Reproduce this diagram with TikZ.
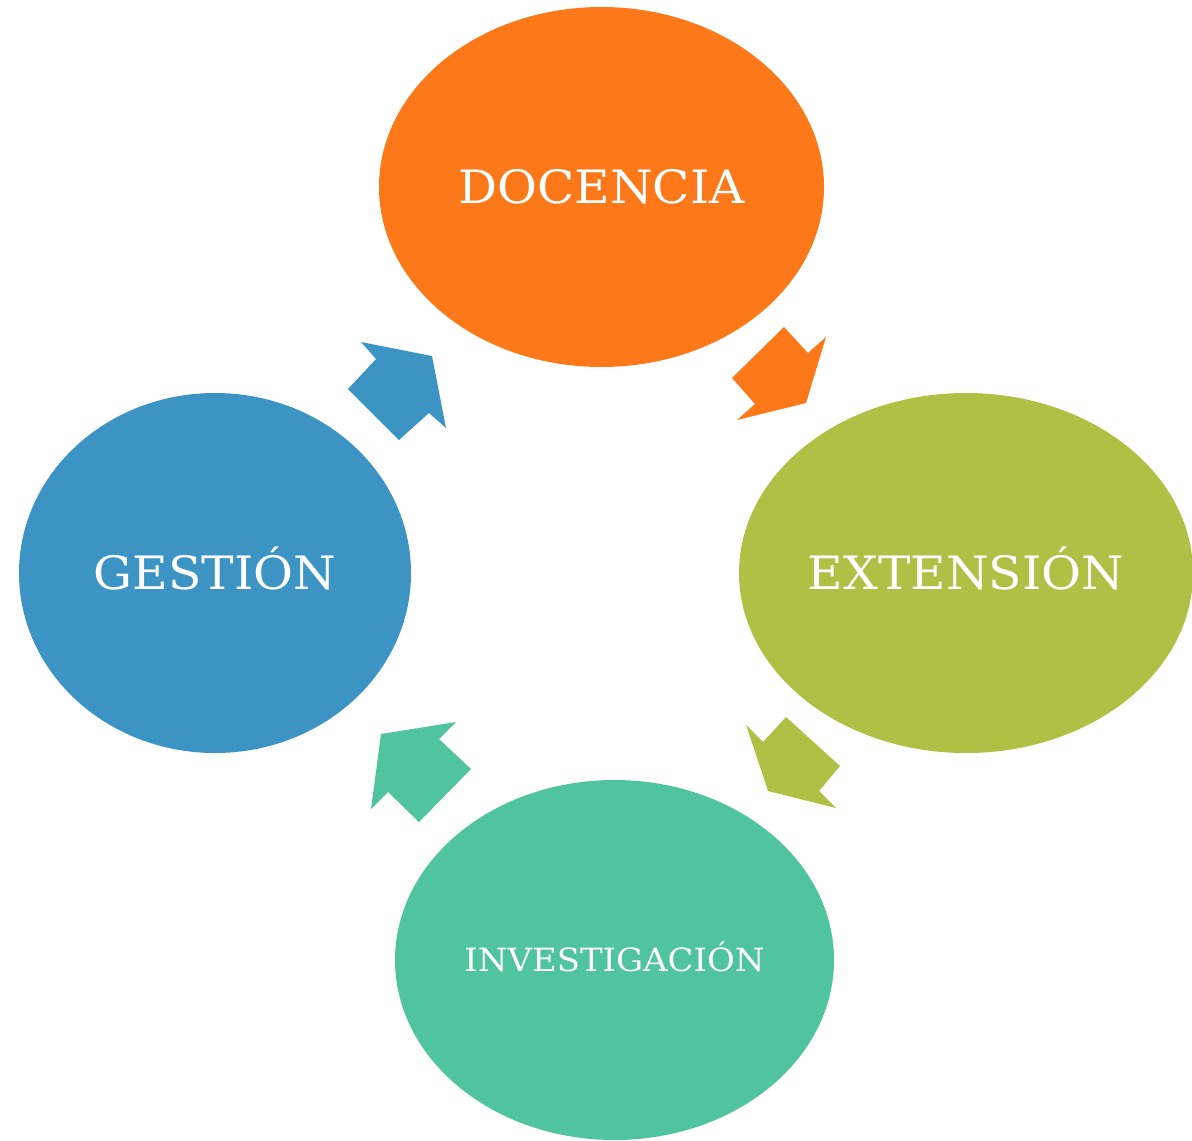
\documentclass[tikz,border=0pt]{standalone}
\usepackage{fontspec}
\setmainfont{DejaVu Serif}[FakeStretch=1.06]
\usetikzlibrary{shapes.geometric}

\definecolor{docenciaorange}{HTML}{FC7818}
\definecolor{extensionolive}{HTML}{B0C044}
\definecolor{investigacionteal}{HTML}{50C49F}
\definecolor{gestionblue}{HTML}{3B94C4}

\tikzset{
  area/.style={ellipse, inner sep=0pt, minimum height=180pt, text=white,
    text height=16.8pt, text depth=0pt, font=\fontsize{23}{26}\selectfont},
  smallarea/.style={area, text height=11.7pt, font=\fontsize{16}{19}\selectfont},
}

\begin{document}
\begin{tikzpicture}[x=0.5pt, y=-0.5pt]
    \useasboundingbox (0,0) rectangle (1192,1140);

    \node[area, fill=docenciaorange, minimum width=222.5pt] (docencia) at (601.5,187) {DOCENCIA};
    \node[area, fill=extensionolive, minimum width=227pt] (extension) at (966,573) {EXTENSIÓN};
    \node[smallarea, fill=investigacionteal, minimum width=219.5pt] (investigacion) at (614.5,960) {INVESTIGACIÓN};
    \node[area, fill=gestionblue, minimum width=196pt] (gestion) at (215,573) {GESTIÓN};

    % flechas del ciclo
    \fill[docenciaorange] (784,327) -- (808,353) -- (826,337) -- (806,403)
        -- (737,420) -- (755,404) -- (732,378) -- cycle;
    \fill[extensionolive] (746,725) -- (763,742) -- (786,717) -- (840,766)
        -- (819,791) -- (836,808) -- (768,791) -- cycle;
    \fill[investigacionteal] (381,734) -- (456,722) -- (439,739) -- (471,769)
        -- (419,822) -- (388,792) -- (371,809) -- cycle;
    \fill[gestionblue] (361,342) -- (432,356) -- (446,428) -- (429,413)
        -- (399,440) -- (348,389) -- (376,359) -- cycle;
\end{tikzpicture}
\end{document}
